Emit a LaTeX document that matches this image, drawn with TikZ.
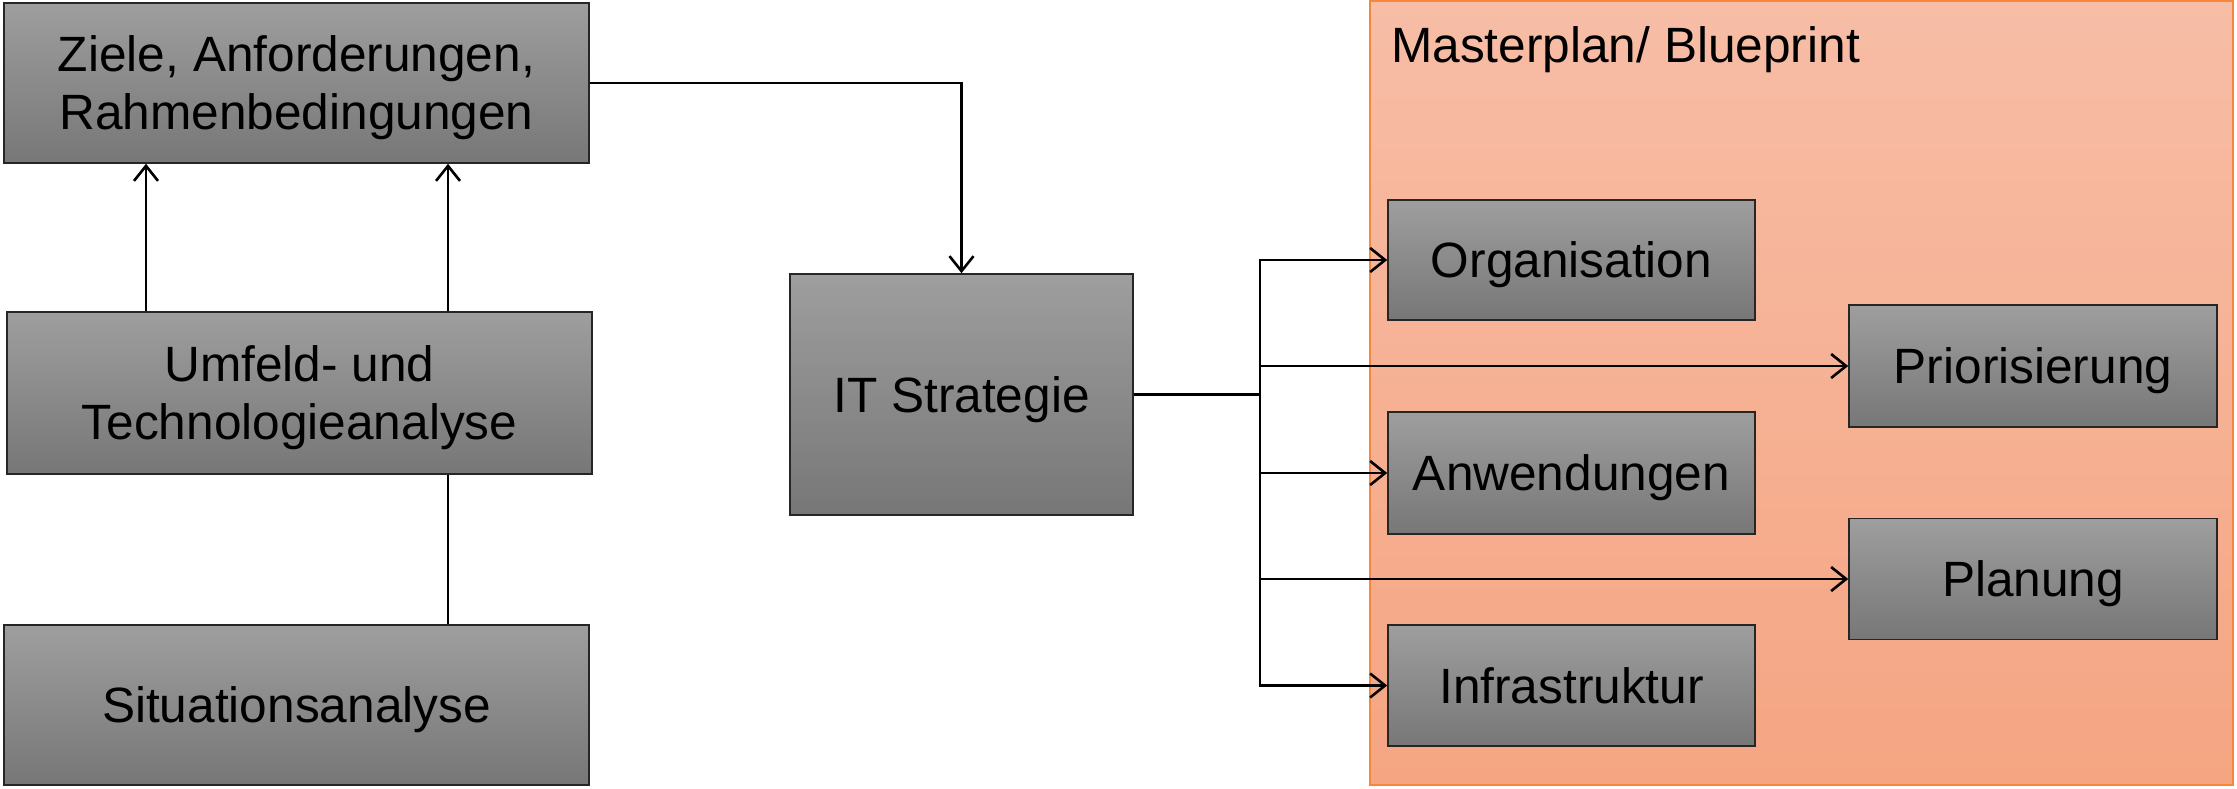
\documentclass[tikz,border=0pt]{standalone}
\usepackage{fontspec}
\setmainfont{Liberation Sans}
\usetikzlibrary{arrows.meta}
\definecolor{boxtop}{HTML}{9E9E9E}
\definecolor{boxbot}{HTML}{777777}
\definecolor{plantop}{HTML}{F7BDA6}
\definecolor{planbot}{HTML}{F5A582}
\definecolor{planedge}{HTML}{F7883A}
\tikzset{
  gbox/.style={draw=black!85, line width=1.6pt, top color=boxtop, bottom color=boxbot,
    inner sep=0pt, align=center, text depth=0pt, font=\fontsize{49.6}{58}\selectfont},
  conn/.style={line width=2.6pt, draw=black},
  arr/.style={conn, -{Straight Barb[length=15pt,width=24pt,line width=2.6pt]}},
}
\begin{document}
\begin{tikzpicture}[x=1pt,y=-1pt]
  \useasboundingbox (0,0) rectangle (2237,788);

  % Masterplan area
  \shade[top color=plantop, bottom color=planbot] (1370,1) rectangle (2233,785);
  \draw[planedge, line width=1.5pt] (1370,1) rectangle (2233,785);
  \node[anchor=base west, inner sep=0pt, font=\fontsize{49.6}{58}\selectfont] (mp) at (1391,62) {Masterplan/ Blueprint};

  % left column
  \node[gbox, minimum width=585pt, minimum height=160pt] (ziele) at (296.5,83) {Ziele, Anforderungen,\\Rahmenbedingungen};
  \node[gbox, minimum width=585pt, minimum height=162pt] (umf) at (299.5,393) {Umfeld- und\\Technologieanalyse};
  \node[gbox, minimum width=585pt, minimum height=160pt] (sit) at (296.5,705) {Situationsanalyse};

  % strategy
  \node[gbox, minimum width=343pt, minimum height=241pt] (its) at (961.5,394.5) {IT Strategie};

  % masterplan boxes
  \node[gbox, minimum width=367pt, minimum height=120pt] (org) at (1571.5,260) {Organisation};
  \node[gbox, minimum width=367pt, minimum height=122pt] (anw) at (1571.5,473) {Anwendungen};
  \node[gbox, minimum width=367pt, minimum height=121pt] (inf) at (1571.5,685.5) {Infrastruktur};
  \node[gbox, minimum width=368pt, minimum height=122pt] (pri) at (2033,366) {Priorisierung};
  \node[gbox, minimum width=368pt, minimum height=121pt] (pla) at (2033,579) {Planung};

  % connectors
  \coordinate (c1) at (146,0);
  \coordinate (c2) at (448,0);
  \coordinate (bus) at (1260,394.5);

  \draw[arr] (umf.north -| c1) -- (ziele.south -| c1);
  \draw[arr] (umf.north -| c2) -- (ziele.south -| c2);
  \draw[conn] (sit.north -| c2) -- (umf.south -| c2);

  \draw[arr] (ziele.east) -| (its.north);
  \draw[conn] (its.east) -- (bus);

  \draw[arr] (bus) |- (org.west);
  \draw[arr] (bus) |- (pri.west);
  \draw[arr] (bus) |- (anw.west);
  \draw[arr] (bus) |- (pla.west);
  \draw[arr] (bus) |- (inf.west);
\end{tikzpicture}
\end{document}
